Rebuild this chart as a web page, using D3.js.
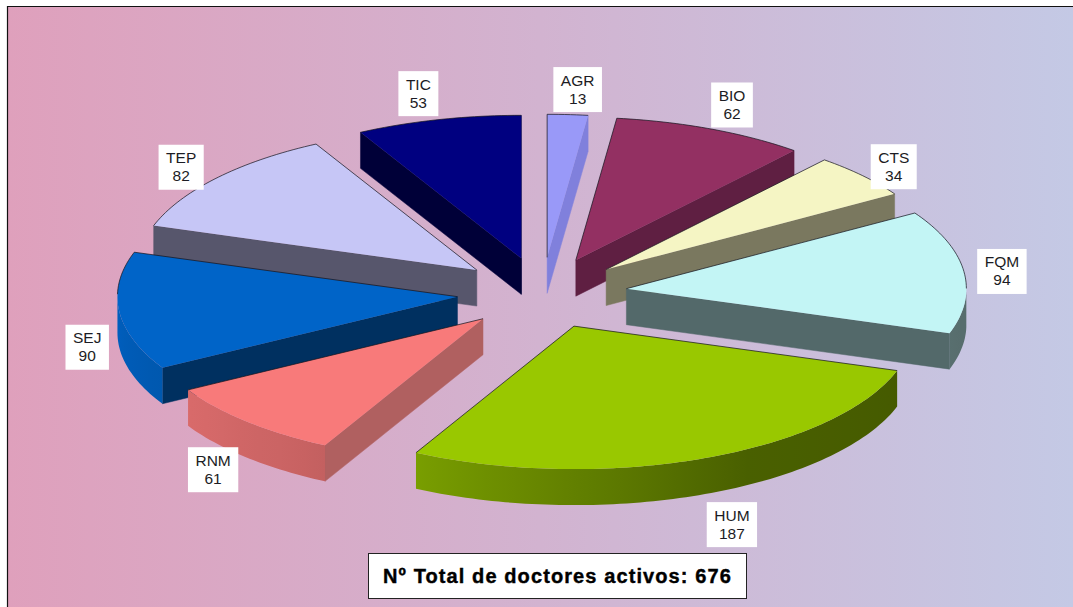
<!DOCTYPE html>
<html>
<head>
<meta charset="utf-8">
<script src="https://cdn.jsdelivr.net/npm/d3@7"></script>
<style>
  html, body { margin: 0; padding: 0; background: #fff; overflow: hidden; }
  svg { display: block; }
  text { font-family: "Liberation Sans", Arial, sans-serif; }
</style>
</head>
<body>
<div id="chart"></div>
<script>
const categories = ['AGR', 'BIO', 'CTS', 'FQM', 'HUM', 'RNM', 'SEJ', 'TEP', 'TIC'];
const values = [13, 62, 34, 94, 187, 61, 90, 82, 53];
const totalLabel = 'Nº Total de doctores activos: 676';

const topColors = ['#9999f8', '#933062', '#f5f5c4', '#c3f5f5', '#99c800', '#f87a7a', '#0064c8', '#c6c6f6', '#000080'];
const wallColors = ['#8080dc', '#5f1f42', '#7a785f', '#53696a', '#465800', '#b06060', '#003060', '#57566c', '#000038'];

// pixel nudges of each label from the rim of its slice
const labelNudge = [[10, -25], [21, -24], [31, -9], [38, 0], [30, 66], [-34, 48], [-32, 36], [-35, -11], [-20, -26]];

const width = 1073;
const height = 607;
const rx = 340;
const ry = 143;
const depth = 36;
const explode = 0.25;

const x = d3.scaleLinear().domain([-1, 1]).range([542 - rx, 542 + rx]);
const y = d3.scaleLinear().domain([-1, 1]).range([293 - ry, 293 + ry]);

// rim shading by angle (degrees clockwise from the top)
const shade = d3.scaleLinear().domain([90, 150, 210, 270]).range([0.44, 0.48, 0.8, 0.95]);

const svg = d3.select('#chart').append('svg').attr('width', width).attr('height', height);

const defs = svg.append('defs');
const bg = defs.append('linearGradient').attr('id', 'bg');
bg.append('stop').attr('offset', '0%').attr('stop-color', '#dfa0bc');
bg.append('stop').attr('offset', '50%').attr('stop-color', '#d2b3d0');
bg.append('stop').attr('offset', '100%').attr('stop-color', '#c4c9e5');

svg.append('rect').attr('x', 7).attr('y', 6).attr('width', width - 7).attr('height', height - 6).attr('fill', 'url(#bg)');
svg.append('path').attr('d', `M7.5,${height}V6.5H${width}`).attr('fill', 'none').attr('stroke', '#111').attr('stroke-width', 1.2);

const slices = d3.pie().sort(null).value((d) => d)(values).map((d, i) => {
  const mid = (d.startAngle + d.endAngle) / 2;
  const ox = explode * Math.sin(mid);
  const oy = -explode * Math.cos(mid);
  return { ...d, i, mid, ox, oy, name: categories[i] };
});

const pt = (s, r, a, drop = 0) => [
  x(s.ox + r * Math.sin(a)),
  y(s.oy - r * Math.cos(a)) + drop,
];

const rimAngles = (s) => {
  const n = Math.ceil((s.endAngle - s.startAngle) / 0.02);
  return d3.range(n + 1).map((k) => s.startAngle + (k / n) * (s.endAngle - s.startAngle));
};

const line = d3.line();
const facing = (a) => Math.cos(a) < 0;

// back slices first, the front ones cover their neighbours' walls
const ordered = slices.slice().sort((a, b) => d3.ascending(a.oy, b.oy));

const pie = svg.append('g');
ordered.forEach((s) => {
  const g = pie.append('g').attr('class', s.name);
  const color = topColors[s.i];
  const wall = wallColors[s.i];

  const radialWall = (a) => {
    g.append('path')
      .attr('d', line([pt(s, 0, a), pt(s, 1, a), pt(s, 1, a, depth), pt(s, 0, a, depth)]) + 'Z')
      .attr('fill', wall)
      .attr('stroke', wall)
      .attr('stroke-width', 0.5);
  };
  if (facing(s.startAngle - Math.PI / 2)) radialWall(s.startAngle);
  if (facing(s.endAngle + Math.PI / 2)) radialWall(s.endAngle);

  // rim wall with a horizontal gradient that follows the angle
  const angles = rimAngles(s);
  const front = angles.filter(facing);
  if (front.length > 1) {
    const x1 = pt(s, 1, front[0])[0];
    const x2 = pt(s, 1, front[front.length - 1])[0];
    const grad = defs.append('linearGradient').attr('id', `rim-${s.name}`)
      .attr('gradientUnits', 'userSpaceOnUse')
      .attr('x1', x1).attr('y1', 0).attr('x2', x2).attr('y2', 0);
    const c = d3.rgb(color);
    front.filter((a, k) => k % 4 === 0 || k === front.length - 1).forEach((a) => {
      const k = shade(a * 180 / Math.PI);
      grad.append('stop')
        .attr('offset', (pt(s, 1, a)[0] - x1) / (x2 - x1))
        .attr('stop-color', d3.rgb(c.r * k, c.g * k, c.b * k).formatHex());
    });
    const rimPath = [
      ...front.map((a) => pt(s, 1, a)),
      ...front.slice().reverse().map((a) => pt(s, 1, a, depth)),
    ];
    g.append('path').attr('d', line(rimPath) + 'Z').attr('fill', `url(#rim-${s.name})`);
  }

  // top face
  const outline = [pt(s, 0, s.startAngle), ...angles.map((a) => pt(s, 1, a))];
  g.append('path').attr('d', line(outline) + 'Z').attr('fill', color);

  // thin dark edge along whatever has no wall under it
  const back = [];
  if (!facing(s.startAngle - Math.PI / 2)) back.push([pt(s, 0, s.startAngle), pt(s, 1, s.startAngle)]);
  if (!facing(s.endAngle + Math.PI / 2)) back.push([pt(s, 0, s.endAngle), pt(s, 1, s.endAngle)]);
  const rimBack = angles.filter((a) => !facing(a)).map((a) => pt(s, 1, a));
  if (rimBack.length > 1) back.push(rimBack);
  back.forEach((seg) => {
    g.append('path')
      .attr('d', line(seg))
      .attr('fill', 'none')
      .attr('stroke', '#15151f')
      .attr('stroke-opacity', 0.8)
      .attr('stroke-width', 0.9);
  });
});

// data labels
const labels = svg.append('g').selectAll('g').data(slices).join('g')
  .attr('transform', (s) => {
    const p = pt(s, 1, s.mid);
    const n = labelNudge[s.i];
    return `translate(${p[0] + n[0]},${p[1] + n[1]})`;
  });
const labelRect = labels.append('rect').attr('fill', '#fff');
labels.append('text').attr('class', 'name').attr('y', -4).attr('text-anchor', 'middle')
  .attr('font-size', 15.5).attr('fill', '#1c1c24').text((s) => s.name);
labels.append('text').attr('class', 'value').attr('y', 14).attr('text-anchor', 'middle')
  .attr('font-size', 15.5).attr('fill', '#1c1c24').text((s) => s.value);
labelRect.each(function () {
  const w = this.parentNode.querySelector('.name').getComputedTextLength() + 15;
  d3.select(this).attr('x', -w / 2).attr('y', -22.5).attr('width', w).attr('height', 45);
});

// total box
svg.append('rect').attr('x', 368.5).attr('y', 553.5).attr('width', 378).attr('height', 45)
  .attr('fill', '#fff').attr('stroke', '#222').attr('stroke-width', 1);
svg.append('text').attr('x', 557.5).attr('y', 583).attr('text-anchor', 'middle')
  .attr('font-size', 20).attr('font-weight', 'bold').attr('letter-spacing', 1.1)
  .attr('fill', '#000').attr('stroke', '#000').attr('stroke-width', 0.4).text(totalLabel);
</script>
</body>
</html>
